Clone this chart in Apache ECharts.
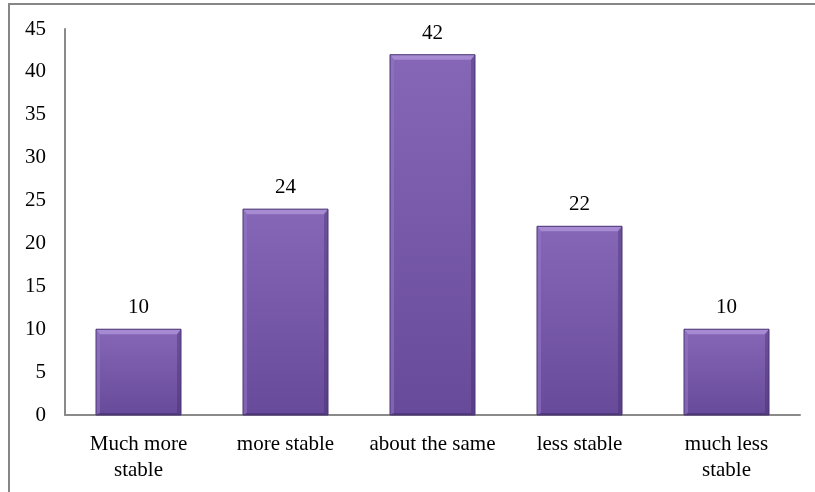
<!DOCTYPE html>
<html>
<head>
<meta charset="utf-8">
<script src="https://cdn.jsdelivr.net/npm/echarts@6/dist/echarts.min.js"></script>
<style>
html,body{margin:0;padding:0;background:#fff;}
#frame{position:absolute;left:8px;top:3px;width:820px;height:500px;border:2px solid #868686;box-sizing:border-box;}
#chart{position:absolute;left:0;top:0;width:815px;height:492px;}
</style>
</head>
<body>
<div id="frame"></div>
<div id="chart"></div>
<script>
var categories = ['Much more\nstable', 'more stable', 'about the same', 'less stable', 'much less\nstable'];
var values = [10, 24, 42, 22, 10];
var yTicks = [0, 5, 10, 15, 20, 25, 30, 35, 40, 45];

var chart = echarts.init(document.getElementById('chart'), null, {renderer: 'canvas'});
var font = 'Liberation Serif';
var BW = 85;

function bevel(params, api) {
  var top = api.coord([api.value(0), api.value(1)]);
  var base = api.coord([api.value(0), 0]);
  var x0 = top[0] - BW / 2, x1 = top[0] + BW / 2, y0 = top[1], y1 = base[1];
  var b = 5, s = 4;
  return {
    type: 'group',
    children: [
      {type: 'polygon', shape: {points: [[x0, y0], [x1, y0], [x1 - s, y0 + b], [x0 + s, y0 + b]]}, style: {fill: '#a68bd3'}},
      {type: 'polygon', shape: {points: [[x0, y0], [x0 + s, y0 + b], [x0 + s, y1 - 2], [x0, y1]]}, style: {fill: 'rgba(150,120,200,0.55)'}},
      {type: 'polygon', shape: {points: [[x1, y0], [x1 - s, y0 + b], [x1 - s, y1 - 2], [x1, y1]]}, style: {fill: 'rgba(60,40,100,0.35)'}},
      {type: 'polygon', shape: {points: [[x0, y1], [x0 + s, y1 - 2], [x1 - s, y1 - 2], [x1, y1]]}, style: {fill: 'rgba(50,30,90,0.4)'}},
      {type: 'rect', shape: {x: x0, y: y0, width: BW, height: y1 - y0}, style: {fill: 'none', stroke: '#4b3672', lineWidth: 1}}
    ]
  };
}

chart.setOption({
  animation: false,
  backgroundColor: 'transparent',
  grid: {left: 65, right: 15, top: 29, bottom: 77, containLabel: false},
  xAxis: {
    type: 'category',
    data: categories,
    axisLine: {lineStyle: {color: '#8a8a8a', width: 2}},
    axisTick: {show: false},
    axisLabel: {fontFamily: font, fontSize: 21, color: '#000', margin: 16, lineHeight: 26, interval: 0}
  },
  yAxis: {
    type: 'value',
    min: yTicks[0],
    max: yTicks[yTicks.length - 1],
    interval: 5,
    splitLine: {show: false},
    axisLine: {show: true, lineStyle: {color: '#8a8a8a', width: 2}},
    axisTick: {show: false},
    axisLabel: {fontFamily: font, fontSize: 21, color: '#000', margin: 19}
  },
  series: [{
    type: 'bar',
    data: values,
    barWidth: BW,
    itemStyle: {
      color: new echarts.graphic.LinearGradient(0, 0, 0, 1, [
        {offset: 0, color: '#8566b7'},
        {offset: 1, color: '#684a9a'}
      ])
    },
    label: {show: true, position: 'top', distance: 11, fontFamily: font, fontSize: 21, color: '#000'}
  }, {
    type: 'custom',
    renderItem: bevel,
    data: values.map(function (v, i) { return [i, v]; }),
    z: 3,
    silent: true
  }]
});
</script>
</body>
</html>
